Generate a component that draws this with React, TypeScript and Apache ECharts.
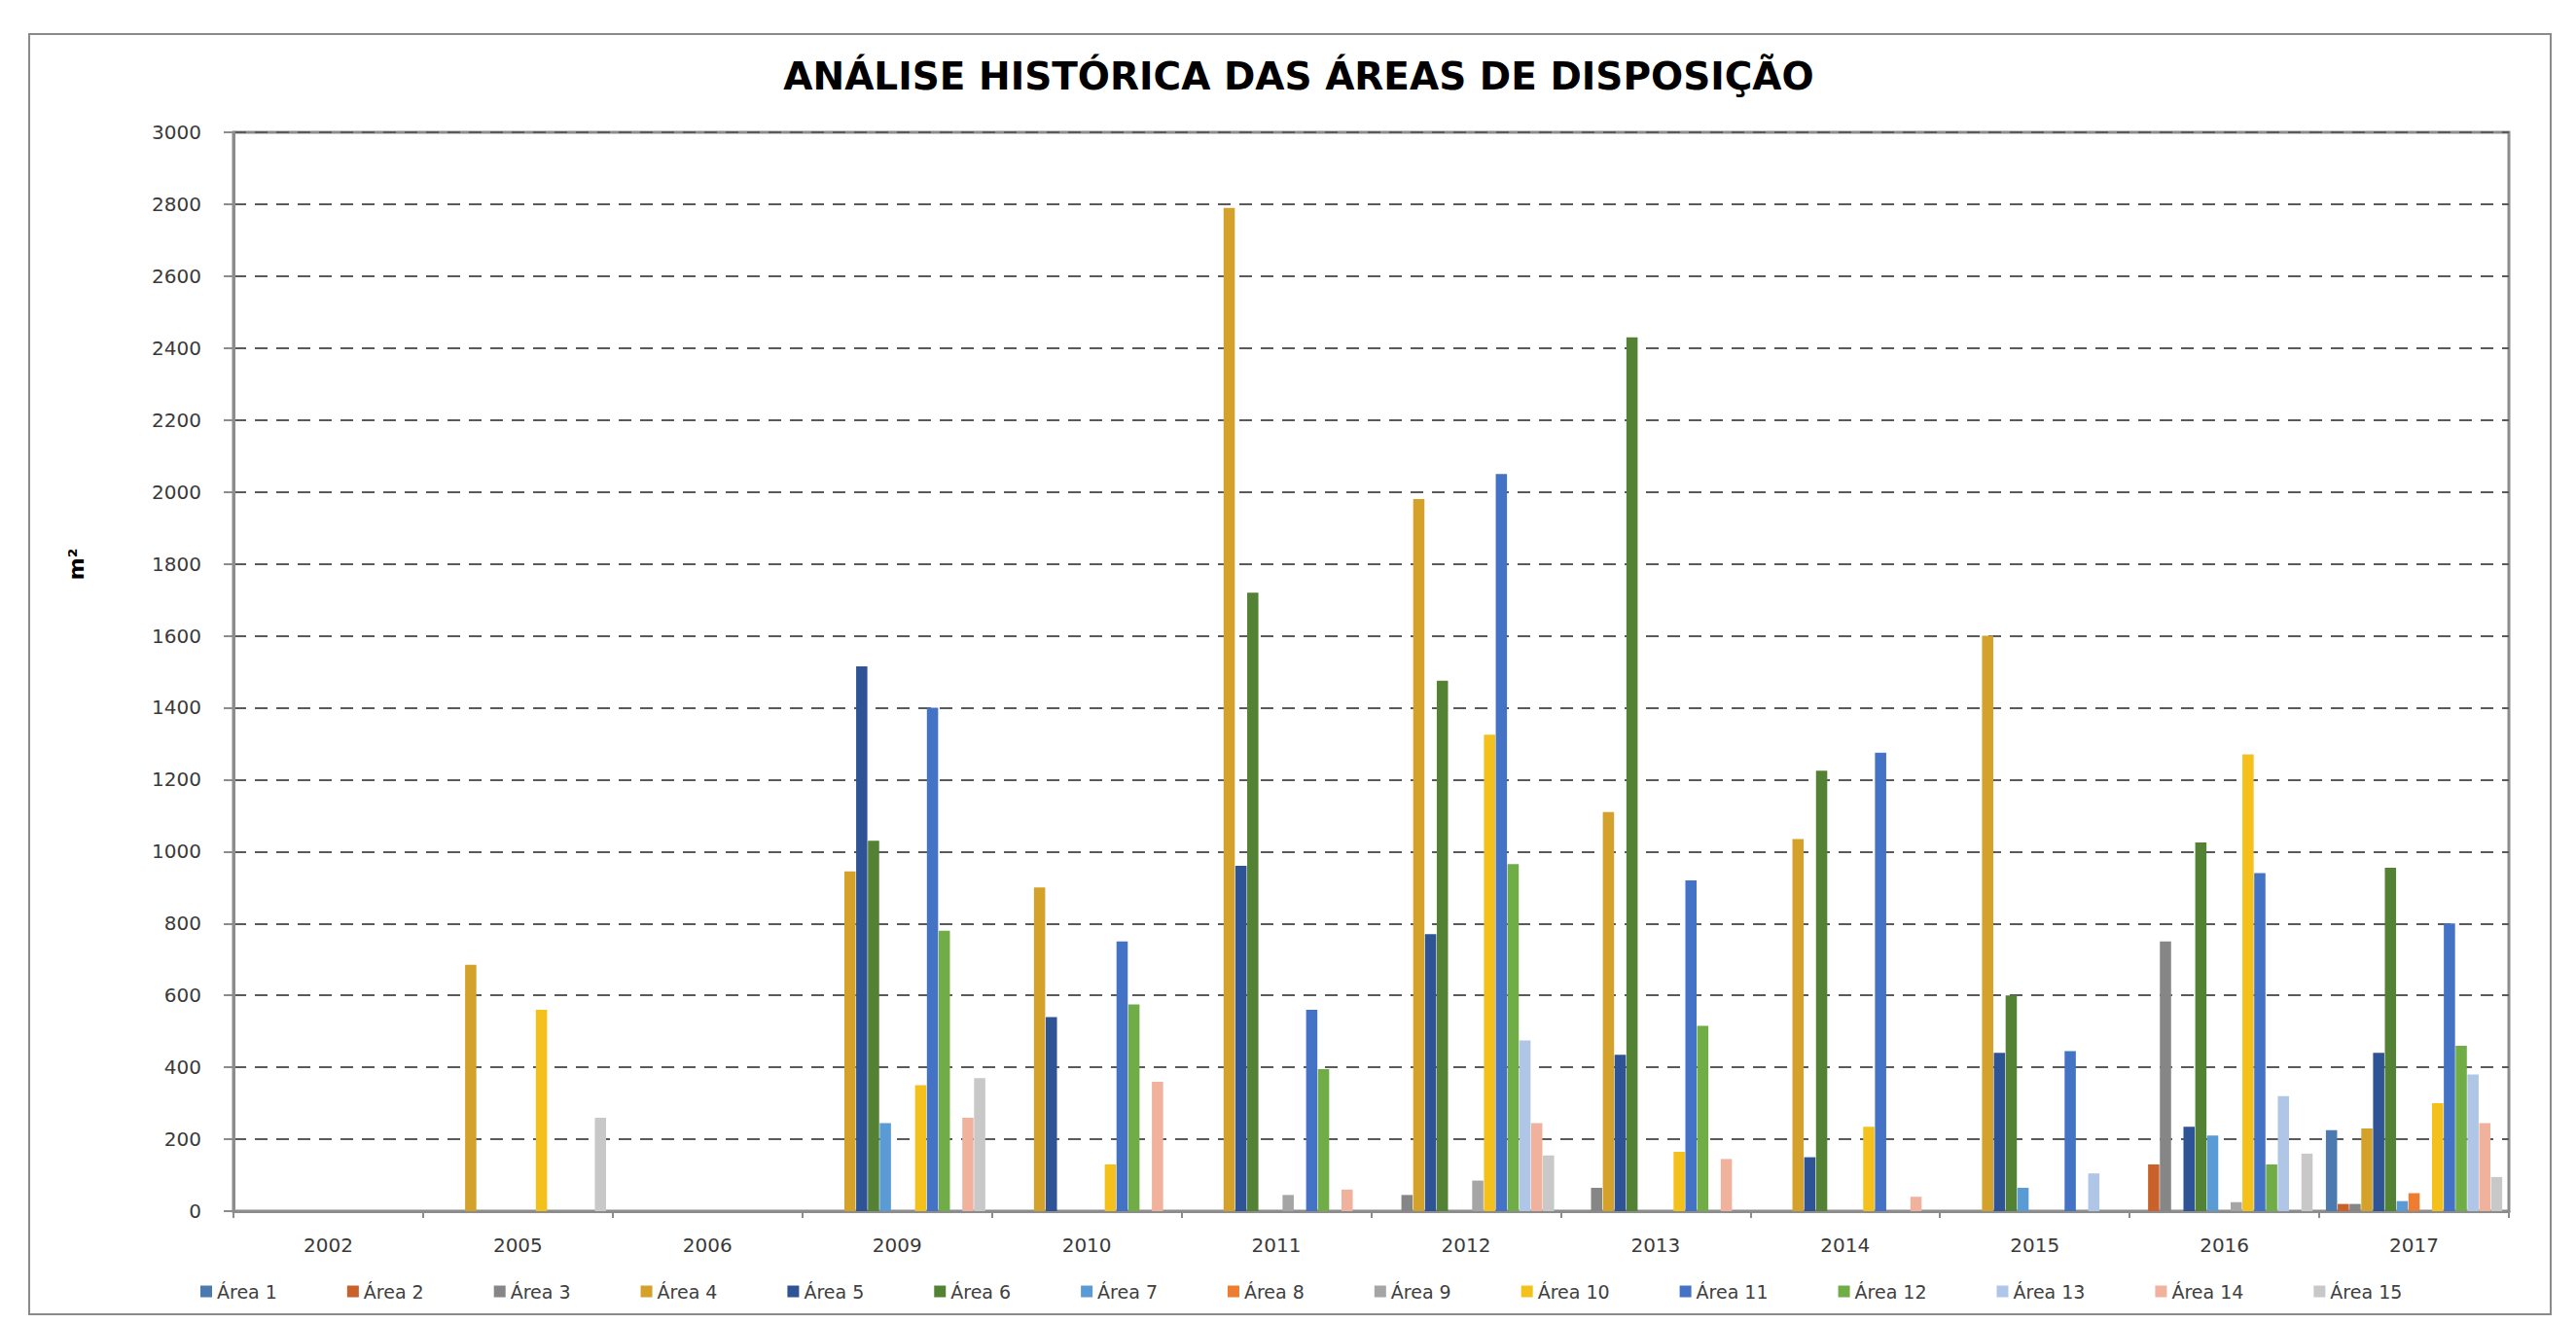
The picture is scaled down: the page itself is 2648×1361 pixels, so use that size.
import React, { useEffect, useRef } from "react";
import * as echarts from "echarts";

const categories = ["2002", "2005", "2006", "2009", "2010", "2011", "2012", "2013", "2014", "2015", "2016", "2017"];
const seriesNames = ["Área 1", "Área 2", "Área 3", "Área 4", "Área 5", "Área 6", "Área 7", "Área 8", "Área 9", "Área 10", "Área 11", "Área 12", "Área 13", "Área 14", "Área 15"];

const area1 = [0, 0, 0, 0, 0, 0, 0, 0, 0, 0, 0, 225];
const area2 = [0, 0, 0, 0, 0, 0, 0, 0, 0, 0, 130, 20];
const area3 = [0, 0, 0, 0, 0, 0, 45, 65, 0, 0, 750, 20];
const area4 = [0, 685, 0, 945, 900, 2790, 1980, 1110, 1035, 1600, 0, 230];
const area5 = [0, 0, 0, 1515, 540, 960, 770, 435, 150, 440, 235, 440];
const area6 = [0, 0, 0, 1030, 0, 1720, 1475, 2430, 1225, 600, 1025, 955];
const area7 = [0, 0, 0, 245, 0, 0, 0, 0, 0, 65, 210, 28];
const area8 = [0, 0, 0, 0, 0, 0, 0, 0, 0, 0, 0, 50];
const area9 = [0, 0, 0, 0, 0, 45, 85, 0, 0, 0, 25, 0];
const area10 = [0, 560, 0, 350, 130, 0, 1325, 165, 235, 0, 1270, 300];
const area11 = [0, 0, 0, 1400, 750, 560, 2050, 920, 1275, 445, 940, 800];
const area12 = [0, 0, 0, 780, 575, 395, 965, 515, 0, 0, 130, 460];
const area13 = [0, 0, 0, 0, 0, 0, 475, 0, 0, 105, 320, 380];
const area14 = [0, 0, 0, 260, 360, 60, 245, 145, 40, 0, 0, 245];
const area15 = [0, 260, 0, 370, 0, 0, 155, 0, 0, 0, 160, 95];

const seriesValues = [area1, area2, area3, area4, area5, area6, area7, area8, area9, area10, area11, area12, area13, area14, area15];

const colors = [
  "#4A7AB0", "#C8612A", "#868686", "#D4A12A", "#2F5496",
  "#548235", "#5B9BD5", "#ED7D31", "#A5A5A5", "#F4C01C",
  "#4472C4", "#70AD47", "#AFC6E6", "#F0B29C", "#C8C8C8",
];

const yTicks = { min: 0, max: 3000, interval: 200 };

const FONT = "'DejaVu Sans', Verdana, sans-serif";

export default function App() {
  const ref = useRef<HTMLDivElement>(null);
  useEffect(() => {
    document.body.style.margin = "0";
    const chart = echarts.init(ref.current!, undefined, { renderer: "svg" });
    chart.setOption({
      animation: false,
      backgroundColor: "#ffffff",
      color: colors,
      textStyle: { fontFamily: FONT },
      title: {
        text: "ANÁLISE HISTÓRICA DAS ÁREAS DE DISPOSIÇÃO",
        left: 1330,
        textAlign: "center",
        top: 54,
        textStyle: { fontSize: 39, fontWeight: "bold", color: "#000000", fontFamily: FONT },
      },
      legend: {
        data: seriesNames,
        left: 201,
        top: 1313,
        itemWidth: 12,
        itemHeight: 12,
        itemGap: 72,
        icon: "rect",
        textStyle: { fontSize: 19, color: "#404040", fontFamily: FONT },
      },
      grid: {
        left: 240,
        right: 69,
        top: 136,
        bottom: 116,
        show: true,
        borderColor: "#8c8c8c",
        borderWidth: 3,
      },
      xAxis: {
        type: "category",
        data: categories,
        axisLine: { lineStyle: { color: "#8c8c8c", width: 3 } },
        axisTick: { show: true, length: 7, lineStyle: { color: "#8c8c8c", width: 2 } },
        axisLabel: { fontSize: 20, color: "#3a3a3a", margin: 25 },
      },
      yAxis: {
        type: "value",
        min: yTicks.min,
        max: yTicks.max,
        interval: yTicks.interval,
        axisLine: { show: true, lineStyle: { color: "#8c8c8c", width: 3 } },
        axisTick: { show: true, length: 10, lineStyle: { color: "#8c8c8c", width: 2 } },
        axisLabel: { fontSize: 20, color: "#3a3a3a", margin: 33, formatter: (v: number) => String(v) },
        splitLine: { show: true, lineStyle: { color: "#5a5a5a", width: 2, type: [13, 9] } },
      },
      series: seriesNames.map((name, i) => ({
        name,
        type: "bar",
        data: seriesValues[i],
        barGap: "5%",
        barCategoryGap: "7%",
        itemStyle: { color: colors[i] },
      })),
      graphic: [
        {
          type: "rect",
          shape: { x: 30, y: 35, width: 2592, height: 1316 },
          style: { fill: "none", stroke: "#8a8a8a", lineWidth: 2 },
          silent: true,
        },
        {
          type: "text",
          x: 78,
          y: 580,
          rotation: Math.PI / 2,
          style: {
            text: "m²",
            fontSize: 22,
            fontWeight: "bold",
            fill: "#000000",
            textAlign: "center",
            textVerticalAlign: "middle",
            fontFamily: FONT,
          },
        },
      ],
    });
    return () => chart.dispose();
  }, []);
  return <div ref={ref} style={{ width: 2648, height: 1361 }} />;
}
